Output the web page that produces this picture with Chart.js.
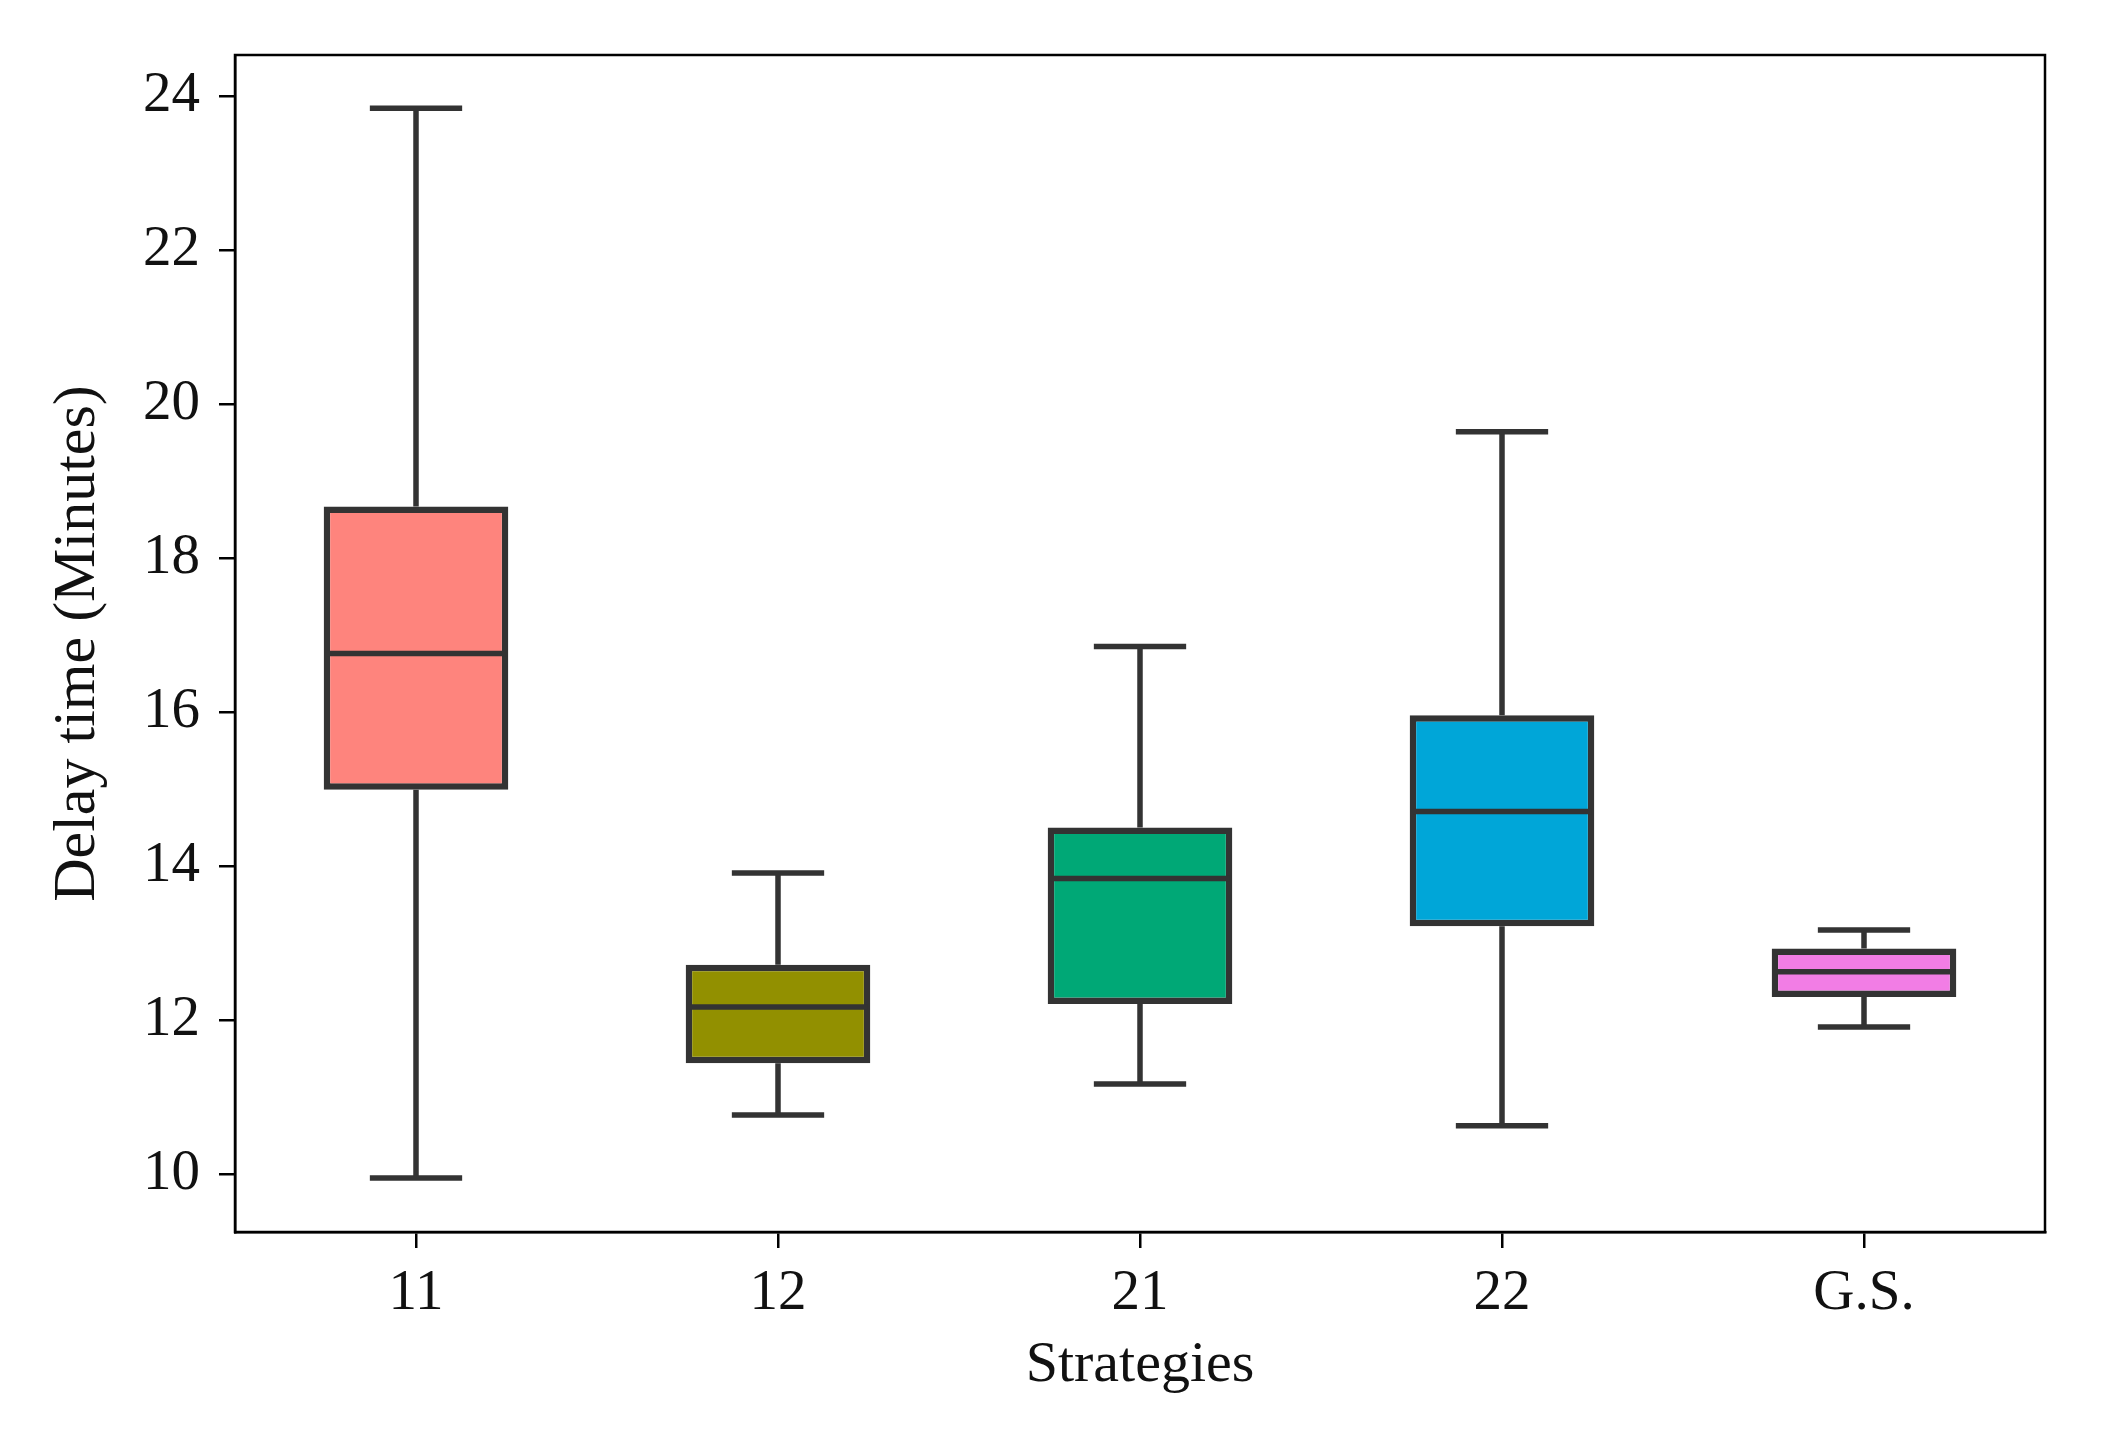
<!DOCTYPE html>
<html>
<head>
<meta charset="utf-8">
<script src="https://cdn.jsdelivr.net/npm/chart.js@4.4.1/dist/chart.umd.min.js"></script>
<style>
  html, body { margin: 0; padding: 0; background: #fff; }
  #wrap { width: 2119px; height: 1429px; }
</style>
</head>
<body>
<div id="wrap"><canvas id="boxChart"></canvas></div>
<script>
const strategies = ['11', '12', '21', '22', 'G.S.'];
const whiskerLow = [9.95, 10.77, 11.17, 10.63, 11.91];
const q1 = [14.99, 11.44, 12.21, 13.22, 12.30];
const median = [16.76, 12.17, 13.84, 14.71, 12.63];
const q3 = [18.67, 12.72, 14.50, 15.96, 12.93];
const whiskerHigh = [23.84, 13.91, 16.85, 19.64, 13.17];
const yTicks = [10, 12, 14, 16, 18, 20, 22, 24];

const colors = ['#FE847D', '#929000', '#00A876', '#00A6D8', '#F27DE5'];
const lineColor = '#333333';
const serif = 'Liberation Serif';

// whiskers, caps and medians drawn with the chart's own scales
const boxExtras = {
  id: 'boxExtras',
  afterDatasetsDraw(chart) {
    const ctx = chart.ctx;
    const y = chart.scales.y;
    const meta = chart.getDatasetMeta(0);
    ctx.save();
    ctx.strokeStyle = lineColor;
    ctx.lineWidth = 5.5;
    ctx.lineCap = 'butt';
    meta.data.forEach((bar, i) => {
      const cx = bar.x;
      const half = bar.width / 2;
      const cap = half / 2;
      ctx.beginPath();
      ctx.moveTo(cx, y.getPixelForValue(q3[i]));
      ctx.lineTo(cx, y.getPixelForValue(whiskerHigh[i]));
      ctx.moveTo(cx, y.getPixelForValue(q1[i]));
      ctx.lineTo(cx, y.getPixelForValue(whiskerLow[i]));
      ctx.moveTo(cx - cap, y.getPixelForValue(whiskerHigh[i]));
      ctx.lineTo(cx + cap, y.getPixelForValue(whiskerHigh[i]));
      ctx.moveTo(cx - cap, y.getPixelForValue(whiskerLow[i]));
      ctx.lineTo(cx + cap, y.getPixelForValue(whiskerLow[i]));
      ctx.moveTo(cx - half + 3, y.getPixelForValue(median[i]));
      ctx.lineTo(cx + half - 3, y.getPixelForValue(median[i]));
      ctx.stroke();
    });
    // frame
    const a = chart.chartArea;
    ctx.strokeStyle = '#000';
    ctx.lineWidth = 2.5;
    ctx.strokeRect(a.left, a.top, a.right - a.left, a.bottom - a.top);
    ctx.restore();
  }
};

new Chart(document.getElementById('boxChart'), {
  type: 'bar',
  data: {
    labels: strategies,
    datasets: [{
      label: 'Delay time',
      data: strategies.map((s, i) => [q1[i], q3[i]]),
      backgroundColor: colors,
      borderColor: lineColor,
      borderWidth: 6.5,
      borderSkipped: false,
      barPercentage: 0.51,
      categoryPercentage: 1.0
    }]
  },
  options: {
    responsive: true,
    maintainAspectRatio: false,
    animation: false,
    layout: { padding: { top: 55, right: 74, left: 0, bottom: 0 } },
    plugins: {
      legend: { display: false },
      tooltip: { enabled: false }
    },
    scales: {
      x: {
        offset: true,
        grid: { display: true, offset: false, drawOnChartArea: false, drawTicks: true, tickLength: 16, tickColor: '#000', lineWidth: 2.5 },
        border: { display: true, color: '#000', width: 2.5 },
        ticks: { color: '#111', font: { family: serif, size: 57 }, padding: 12 },
        title: { display: true, text: 'Strategies', color: '#111', font: { family: serif, size: 58 }, padding: { top: 0, bottom: 28 } },
        afterFit(scale) { scale.height = 197; }
      },
      y: {
        min: 9.25,
        max: 24.53,
        afterBuildTicks(axis) { axis.ticks = yTicks.map(v => ({ value: v })); },
        grid: { display: true, drawOnChartArea: false, drawTicks: true, tickLength: 16, tickColor: '#000', lineWidth: 2.5 },
        border: { display: true, color: '#000', width: 2.5 },
        ticks: { color: '#111', font: { family: serif, size: 57 }, padding: 19 },
        title: { display: true, text: 'Delay time (Minutes)', color: '#111', font: { family: serif, size: 60 }, padding: { top: 42, bottom: 0 } },
        afterFit(scale) { scale.width = 235; }
      }
    }
  },
  plugins: [boxExtras]
});
</script>
</body>
</html>
